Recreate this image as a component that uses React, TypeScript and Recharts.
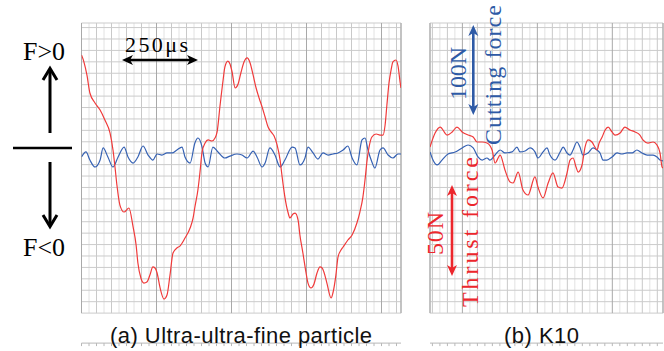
import React from "react";
import { LineChart, Line, XAxis, YAxis, CartesianGrid } from "recharts";

// time in µs (250 µs per major division), force in grid divisions (0 = no load)
const redA: [number, number][] = [
  [0, 8.6], [8, 8.0], [18, 6.85], [28, 5.27], [45, 4.4], [62, 3.78], [78, 2.91], [95, 1.77],
  [105, 0.28], [112, -1.3], [118, -2.78], [128, -4.54], [142, -5.15], [158, -4.8], [172, -6.46],
  [182, -8.04], [188, -9.61], [198, -10.93], [208, -11.37], [218, -11.28], [228, -10.67],
  [238, -9.96], [245, -10.05], [252, -10.49], [262, -11.8], [275, -12.77], [285, -12.42],
  [295, -10.67], [305, -8.74], [318, -8.3], [328, -8.13], [345, -7.43], [362, -6.55],
  [372, -5.67], [378, -4.71], [388, -3.22], [395, -1.65], [402, 0.11], [412, 0.89], [422, 1.16],
  [435, 1.07], [445, 1.33], [452, 1.86], [462, 4.22], [472, 6.41], [478, 7.55], [488, 8.07],
  [495, 7.81], [502, 7.11], [512, 5.71], [522, 6.06], [532, 7.11], [542, 8.0], [552, 8.34],
  [562, 7.9], [572, 6.85], [582, 5.71], [592, 4.83], [602, 4.05], [612, 3.17], [622, 2.29],
  [632, 1.86], [642, 1.51], [652, 0.72], [662, -0.6], [668, -1.91], [678, -3.84], [688, -5.15],
  [695, -5.67], [705, -5.32], [712, -5.24], [722, -5.85], [728, -7.16], [738, -8.74],
  [748, -10.4], [755, -11.37], [765, -11.8], [775, -11.45], [785, -10.49], [795, -9.96],
  [802, -10.05], [808, -10.4], [818, -11.37], [832, -12.68], [838, -12.24], [848, -10.67],
  [855, -9.09], [865, -8.48], [872, -8.21], [888, -7.6], [902, -7.16], [918, -6.11],
  [928, -5.15], [938, -3.84], [945, -2.35], [952, -0.6], [958, 0.46], [968, 1.42], [982, 1.68],
  [995, 1.59], [1005, 1.59], [1012, 2.47], [1018, 4.22], [1025, 6.15], [1032, 7.29],
  [1038, 8.0], [1048, 8.16], [1055, 7.64], [1062, 6.23], [1065, 5.71],
];

const blueA: [number, number][] = [
  [0, -0.33], [15, 0.11], [28, -0.6], [45, -1.21], [62, -0.6], [72, 0.46], [88, -0.33],
  [105, -1.21], [122, -0.33], [142, 0.54], [155, -0.33], [172, -0.86], [188, -0.33], [205, 0.63],
  [222, -0.16], [238, -0.6], [252, -0.07], [268, -0.16], [285, 0.02], [302, 0.02], [318, 0.28],
  [335, 0.54], [345, -0.33], [362, -0.86], [378, 0.89], [388, 1.33], [402, 0.54], [412, -0.86],
  [422, -1.21], [438, 0.54], [455, 0.11], [478, -0.42], [495, -0.25], [518, -0.07], [535, -0.16],
  [552, -0.42], [572, 0.19], [585, -0.33], [602, -1.21], [612, -0.86], [628, 0.46], [645, -0.16],
  [662, -1.21], [678, -0.6], [702, 0.54], [712, 0.46], [728, -1.03], [745, -0.42], [755, 0.54],
  [772, 0.02], [788, -0.51], [805, 0.02], [822, -0.16], [838, -0.07], [855, 0.02], [872, 0.28],
  [888, 0.63], [902, -0.42], [918, -1.03], [935, 1.16], [945, 1.33], [955, 0.28], [968, -0.77],
  [978, -1.3], [995, 0.28], [1005, 0.46], [1022, -0.16], [1038, -0.42], [1055, -0.07],
  [1065, -0.07],
];

const redB: [number, number][] = [
  [-108, 0.54], [-91, 1.77], [-74, 2.29], [-51, 1.59], [-34, 1.86], [-18, 2.29], [-1, 1.86],
  [19, 1.59], [36, 1.42], [49, 0.98], [66, 0.98], [82, 0.89], [99, 0.28], [109, -0.86],
  [126, -0.16], [142, -1.47], [159, -2.52], [169, -2.61], [186, -1.65], [202, -3.22],
  [219, -3.66], [242, -2.08], [252, -2.96], [269, -3.92], [286, -2.61], [302, -1.73],
  [319, -2.96], [332, -3.05], [349, -1.73], [359, -0.6], [369, -0.42], [379, -1.21],
  [386, -1.65], [399, -1.03], [409, 0.54], [419, 1.16], [432, 0.98], [442, 0.54], [449, 0.28],
  [456, 0.89], [466, 1.42], [476, 2.03], [486, 2.29], [499, 1.86], [509, 1.59], [526, 1.77],
  [542, 2.29], [559, 2.03], [576, 1.86], [592, 1.59], [602, 1.16], [619, 0.89], [636, 0.98],
  [649, 0.72], [659, 0.02], [666, -1.21], [669, -1.3],
];

const blueB: [number, number][] = [
  [-108, 0.11], [-98, -0.6], [-84, -1.03], [-68, -0.6], [-48, -0.07], [-24, 0.11], [-1, 0.46],
  [19, 0.72], [36, 0.46], [52, -0.33], [66, -0.6], [82, -0.42], [92, -0.6], [109, -0.16],
  [126, 0.28], [142, 0.02], [166, 0.11], [182, 0.54], [192, 0.11], [209, 0.19], [226, 0.46],
  [242, 0.11], [252, -0.42], [269, 0.11], [282, 0.46], [292, -0.16], [309, -0.6], [326, 0.11],
  [336, 0.54], [349, 0.02], [359, -0.16], [369, 0.28], [382, 0.98], [392, 0.54], [402, -0.16],
  [419, 0.02], [436, 0.46], [449, 0.28], [459, 0.02], [469, -0.6], [482, -0.6], [499, -0.33],
  [516, 0.02], [532, -0.07], [549, 0.02], [566, 0.02], [582, 0.28], [599, 0.02], [616, -0.16],
  [636, -0.16], [649, -0.33], [659, -0.6], [669, -0.68],
];

const captions = ["(a) Ultra-ultra-fine particle", "(b) K10"];

const domainA: [number, number] = [0, 1065];
const domainB: [number, number] = [-108, 669];
const forceDomain: [number, number] = [-14, 11.4];

const RED = "#f03a3a";
const BLUE = "#3561b3";
const TXT_RED = "#ec262c";
const TXT_BLUE = "#2e5aa6";
const serif = "'Liberation Serif', 'Times New Roman', serif";
const sans = "'Liberation Sans', Arial, sans-serif";

const range = (a: number, b: number, step: number) => {
  const out: number[] = [];
  for (let v = a; v <= b; v += step) out.push(v);
  return out;
};

const rows = (pts: [number, number][]) => pts.map(([t, v]) => ({ t, v }));
const blank = () => "";

function Panel({ width, margin, domain, red, blue }: any) {
  const minor = range(Math.ceil(domain[0] / 25) * 25, domain[1], 25);
  const light = minor.filter((t) => t % 50 !== 0);
  const mid = minor.filter((t) => t % 50 === 0 && t % 250 !== 0);
  const major = minor.filter((t) => t % 250 === 0);
  const yTicks = range(-14, 11, 1);
  const common = {
    type: "number" as const,
    dataKey: "t",
    domain,
    allowDataOverflow: true,
    interval: 0 as const,
    tickFormatter: blank,
  };
  return (
    <LineChart width={width} height={351} margin={margin}>
      <XAxis xAxisId="light" {...common} ticks={light} hide />
      <XAxis xAxisId="mid" {...common} ticks={mid} hide />
      <XAxis xAxisId="major" {...common} ticks={major} hide />
      <XAxis xAxisId="main" {...common} ticks={minor} height={10} tickSize={3} stroke="#b8b8b8" />
      <YAxis
        yAxisId="f"
        type="number"
        domain={forceDomain}
        ticks={yTicks}
        interval={0}
        allowDataOverflow
        width={0}
        tickLine={false}
        tickFormatter={blank}
        stroke="#b8b8b8"
      />
      <CartesianGrid xAxisId="light" yAxisId="f" horizontal={false} stroke="#e2e2e2" />
      <CartesianGrid xAxisId="mid" yAxisId="f" horizontal={false} stroke="#c9c9c9" />
      <CartesianGrid xAxisId="main" yAxisId="f" vertical={false} stroke="#cbcbcb" />
      <CartesianGrid xAxisId="major" yAxisId="f" horizontal={false} stroke="#a9a9a9" />
      <Line data={rows(blue)} xAxisId="main" yAxisId="f" dataKey="v" type="monotone" stroke={BLUE} strokeWidth={1.2} dot={false} isAnimationActive={false} />
      <Line data={rows(red)} xAxisId="main" yAxisId="f" dataKey="v" type="monotone" stroke={RED} strokeWidth={1.2} dot={false} isAnimationActive={false} />
    </LineChart>
  );
}

function Arrow2({ x1, y1, x2, y2, color }: any) {
  // double headed arrow, filled heads
  const dx = x2 - x1, dy = y2 - y1;
  const len = Math.hypot(dx, dy);
  const ux = dx / len, uy = dy / len;
  const px = -uy, py = ux;
  const head = (tx: number, ty: number, s: number) => {
    const bx = tx + s * ux * 11, by = ty + s * uy * 11;
    const nx = tx + s * ux * 8, ny = ty + s * uy * 8;
    return `${tx},${ty} ${bx + px * 5},${by + py * 5} ${nx},${ny} ${bx - px * 5},${by - py * 5}`;
  };
  return (
    <g>
      <line x1={x1 + ux * 6} y1={y1 + uy * 6} x2={x2 - ux * 6} y2={y2 - uy * 6} stroke={color} strokeWidth={2.6} />
      <polygon points={head(x1, y1, 1)} fill={color} />
      <polygon points={head(x2, y2, -1)} fill={color} />
    </g>
  );
}

export default function App() {
  return (
    <div style={{ position: "absolute", left: 0, top: 0, width: 664, height: 351, background: "#fff" }}>
      <div style={{ position: "absolute", left: 0, top: 0 }}>
        <Panel width={420} margin={{ top: 23, right: 19, bottom: 27.9, left: 81.5 }} domain={domainA} red={redA} blue={blueA} />
      </div>
      <div style={{ position: "absolute", left: 420, top: 0 }}>
        <Panel width={244} margin={{ top: 23, right: 1, bottom: 27.9, left: 10 }} domain={domainB} red={redB} blue={blueB} />
      </div>
      <svg width={664} height={351} style={{ position: "absolute", left: 0, top: 0, pointerEvents: "none" }}>
        {/* sign convention */}
        <text x={23} y={60} fontFamily={serif} fontSize={25} textLength={42} lengthAdjust="spacingAndGlyphs">{"F>0"}</text>
        <line x1={50} y1={133} x2={50} y2={70} stroke="#000" strokeWidth={3} />
        <polyline points="43,80 50,68.5 57,80" fill="none" stroke="#000" strokeWidth={3} />
        <line x1={13} y1={148} x2={72} y2={148} stroke="#000" strokeWidth={2.6} />
        <line x1={50} y1={162} x2={50} y2={225} stroke="#000" strokeWidth={3} />
        <polyline points="43,215 50,226.5 57,215" fill="none" stroke="#000" strokeWidth={3} />
        <text x={23} y={256} fontFamily={serif} fontSize={25} textLength={42} lengthAdjust="spacingAndGlyphs">{"F<0"}</text>

        {/* time scale */}
        <text x={125} y={52} fontFamily={serif} fontSize={22} textLength={63} lengthAdjust="spacing">250μs</text>
        <Arrow2 x1={122} y1={60} x2={198} y2={60} color="#000" />

        {/* force scales */}
        <text transform="translate(466,73.5) rotate(-90)" textAnchor="middle" fontFamily={serif} fontSize={24} fill={TXT_BLUE} textLength={53} lengthAdjust="spacing">100N</text>
        <Arrow2 x1={473.3} y1={25} x2={473.3} y2={115} color={TXT_BLUE} />
        <text transform="translate(501,75) rotate(-90)" textAnchor="middle" fontFamily={serif} fontSize={24} fill={TXT_BLUE} textLength={140} lengthAdjust="spacing">Cutting force</text>

        <text transform="translate(443,233.5) rotate(-90)" textAnchor="middle" fontFamily={serif} fontSize={24} fill={TXT_RED} textLength={43} lengthAdjust="spacing">50N</text>
        <Arrow2 x1={452} y1={185} x2={452} y2={276} color={TXT_RED} />
        <text transform="translate(478,232) rotate(-90)" textAnchor="middle" fontFamily={serif} fontSize={24} fill={TXT_RED} textLength={150} lengthAdjust="spacing">Thrust force</text>

        {/* captions */}
        <text x={110} y={343} fontFamily={sans} fontSize={22} fill="#111" textLength={262} lengthAdjust="spacing">{captions[0]}</text>
        <text x={504} y={343} fontFamily={sans} fontSize={22} fill="#111" textLength={75} lengthAdjust="spacing">{captions[1]}</text>
      </svg>
    </div>
  );
}
